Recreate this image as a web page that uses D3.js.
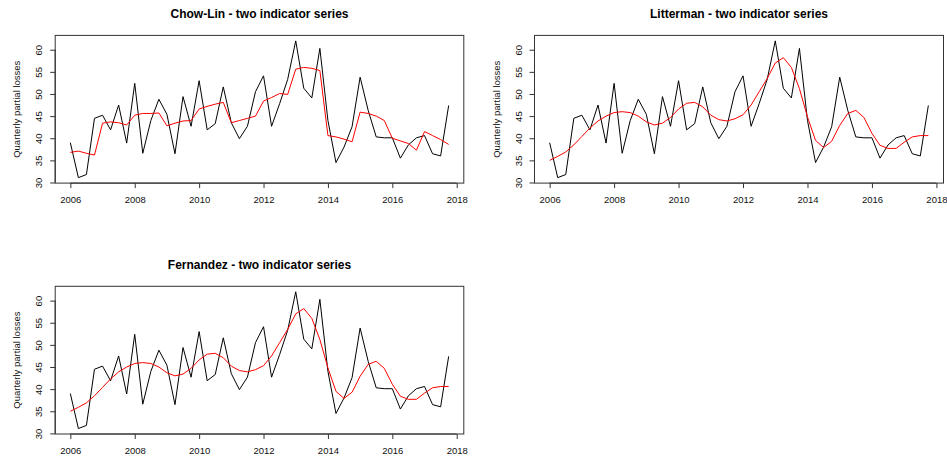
<!DOCTYPE html>
<html>
<head>
<meta charset="utf-8">
<script src="https://cdn.jsdelivr.net/npm/d3@7"></script>
<style>
  body { margin: 0; background: #fff; }
  text { font-family: "Liberation Sans", Arial, sans-serif; }
</style>
</head>
<body>
<div id="chart"></div>
<script>
// quarterly observed series (black), 2006Q1 .. 2017Q4
var startYear = 2006
var observed = [39.0, 31.1, 31.8, 44.5, 45.2, 41.9, 47.5, 38.9, 52.4, 36.6, 44.0, 48.8,
  45.4, 36.5, 49.4, 42.7, 53.0, 41.9, 43.3, 51.6, 43.5, 39.9, 42.7, 50.5,
  54.1, 42.7, 47.8, 53.3, 62.0, 51.3, 49.1, 60.3, 44.0, 34.5, 38.0, 42.6,
  53.8, 46.3, 40.3, 40.1, 40.1, 35.5, 38.5, 40.1, 40.6, 36.5, 36.0, 47.4]

// disaggregated series (red)
var chowLin = [36.8, 37.1, 36.6, 36.2, 43.4, 43.7, 43.5, 43.0, 45.2, 45.6, 45.6, 45.7,
  42.8, 43.4, 43.9, 44.0, 46.6, 47.2, 47.7, 48.1, 43.5, 44.0, 44.5, 45.0,
  48.4, 49.2, 50.1, 49.9, 55.6, 56.0, 55.8, 55.3, 40.6, 40.3, 39.8, 39.2,
  45.9, 45.6, 45.0, 44.0, 40.0, 39.4, 38.8, 37.3, 41.5, 40.6, 39.7, 38.6]
var litterman = [35.0, 35.9, 36.9, 38.5, 40.4, 42.3, 43.9, 45.0, 45.8, 46.0, 45.8, 45.0,
  43.7, 43.0, 43.4, 44.7, 46.6, 47.9, 48.1, 47.1, 45.2, 44.2, 43.9, 44.4,
  45.3, 47.5, 50.5, 53.5, 57.0, 58.2, 56.0, 51.2, 44.8, 39.5, 37.9, 39.3,
  42.9, 45.6, 46.3, 44.7, 41.1, 38.4, 37.7, 37.7, 39.1, 40.3, 40.6, 40.6]
var fernandez = [35.0, 35.9, 36.9, 38.5, 40.4, 42.3, 43.9, 45.0, 45.8, 46.0, 45.8, 45.0,
  43.7, 43.0, 43.4, 44.7, 46.6, 47.9, 48.1, 47.1, 45.2, 44.2, 43.9, 44.4,
  45.3, 47.5, 50.5, 53.5, 57.0, 58.2, 56.0, 51.2, 44.8, 39.5, 37.9, 39.3,
  42.9, 45.6, 46.3, 44.7, 41.1, 38.4, 37.7, 37.7, 39.1, 40.3, 40.6, 40.6]

var panelTitles = ["Chow-Lin - two indicator series", "Litterman - two indicator series", "Fernandez - two indicator series"]
var panelSeries = [chowLin, litterman, fernandez]
var xTicks = [2006, 2008, 2010, 2012, 2014, 2016, 2018]
var yTicks = [30, 35, 40, 45, 50, 55, 60]
var yLabel = "Quarterly partial losses"

var width = 947, height = 456
var svg = d3.select("#chart").append("svg")
  .attr("width", width)
  .attr("height", height)

// plot box positions (R mfrow 2x2 layout)
var cols = [[55.2, 463.8], [534.5, 943.5]]
var rows = [[35.4, 183.1], [286.3, 434]]

var years = observed.map(function (d, i) { return startYear + i / 4 })

// R style ranges: data range extended by 4%
var xExt = d3.extent(years), yExt = d3.extent(observed)
var xPad = (xExt[1] - xExt[0]) * 0.04, yPad = (yExt[1] - yExt[0]) * 0.04

panelSeries.forEach(function (series, p) {
  var c = cols[p % 2], r = rows[Math.floor(p / 2)]
  var x = d3.scaleLinear().domain([xExt[0] - xPad, xExt[1] + xPad]).range(c)
  var y = d3.scaleLinear().domain([yExt[0] - yPad, yExt[1] + yPad]).range([r[1], r[0]])
  var g = svg.append("g")

  // x axis
  var xa = g.append("g")
    .attr("transform", "translate(0," + r[1] + ")")
    .call(d3.axisBottom(x).tickValues(xTicks).tickFormat(d3.format("d")).tickSize(5).tickPadding(8).tickSizeOuter(0))
  xa.select(".domain").attr("d", "M" + x(xTicks[0]) + ",0H" + x(xTicks[xTicks.length - 1])).attr("stroke", "#333")
  xa.selectAll("line").attr("stroke", "#333")
  xa.selectAll("text").attr("font-size", 9.5).attr("fill", "#111").attr("font-family", null)

  // y axis
  var ya = g.append("g")
    .attr("transform", "translate(" + c[0] + ",0)")
    .call(d3.axisLeft(y).tickValues(yTicks).tickSize(5).tickSizeOuter(0))
  ya.select(".domain").attr("d", "M0," + y(yTicks[0]) + "V" + y(yTicks[yTicks.length - 1])).attr("stroke", "#333")
  ya.selectAll("line").attr("stroke", "#333")
  ya.selectAll("text")
    .attr("font-size", 9.5).attr("fill", "#111").attr("font-family", null)
    .attr("x", null).attr("dy", null)
    .attr("text-anchor", "middle")
    .attr("transform", "translate(-13,0) rotate(-90)")

  // box
  g.append("rect")
    .attr("x", c[0]).attr("y", r[0])
    .attr("width", c[1] - c[0]).attr("height", r[1] - r[0])
    .attr("fill", "none").attr("stroke", "#333")

  var line = d3.line()
    .x(function (d, i) { return x(years[i]) })
    .y(function (d) { return y(d) })

  g.append("path").datum(observed)
    .attr("d", line).attr("fill", "none").attr("stroke", "#000").attr("stroke-width", 1)
  g.append("path").datum(series)
    .attr("d", line).attr("fill", "none").attr("stroke", "#ff0000").attr("stroke-width", 1)

  // title
  g.append("text")
    .attr("x", (c[0] + c[1]) / 2).attr("y", r[0] - 17)
    .attr("text-anchor", "middle")
    .attr("font-size", 12).attr("font-weight", "bold").attr("fill", "#000")
    .text(panelTitles[p])

  // y label
  g.append("text")
    .attr("transform", "translate(" + (c[0] - 35) + "," + ((r[0] + r[1]) / 2) + ") rotate(-90)")
    .attr("text-anchor", "middle")
    .attr("font-size", 9.5).attr("fill", "#111")
    .text(yLabel)
})
</script>
</body>
</html>
